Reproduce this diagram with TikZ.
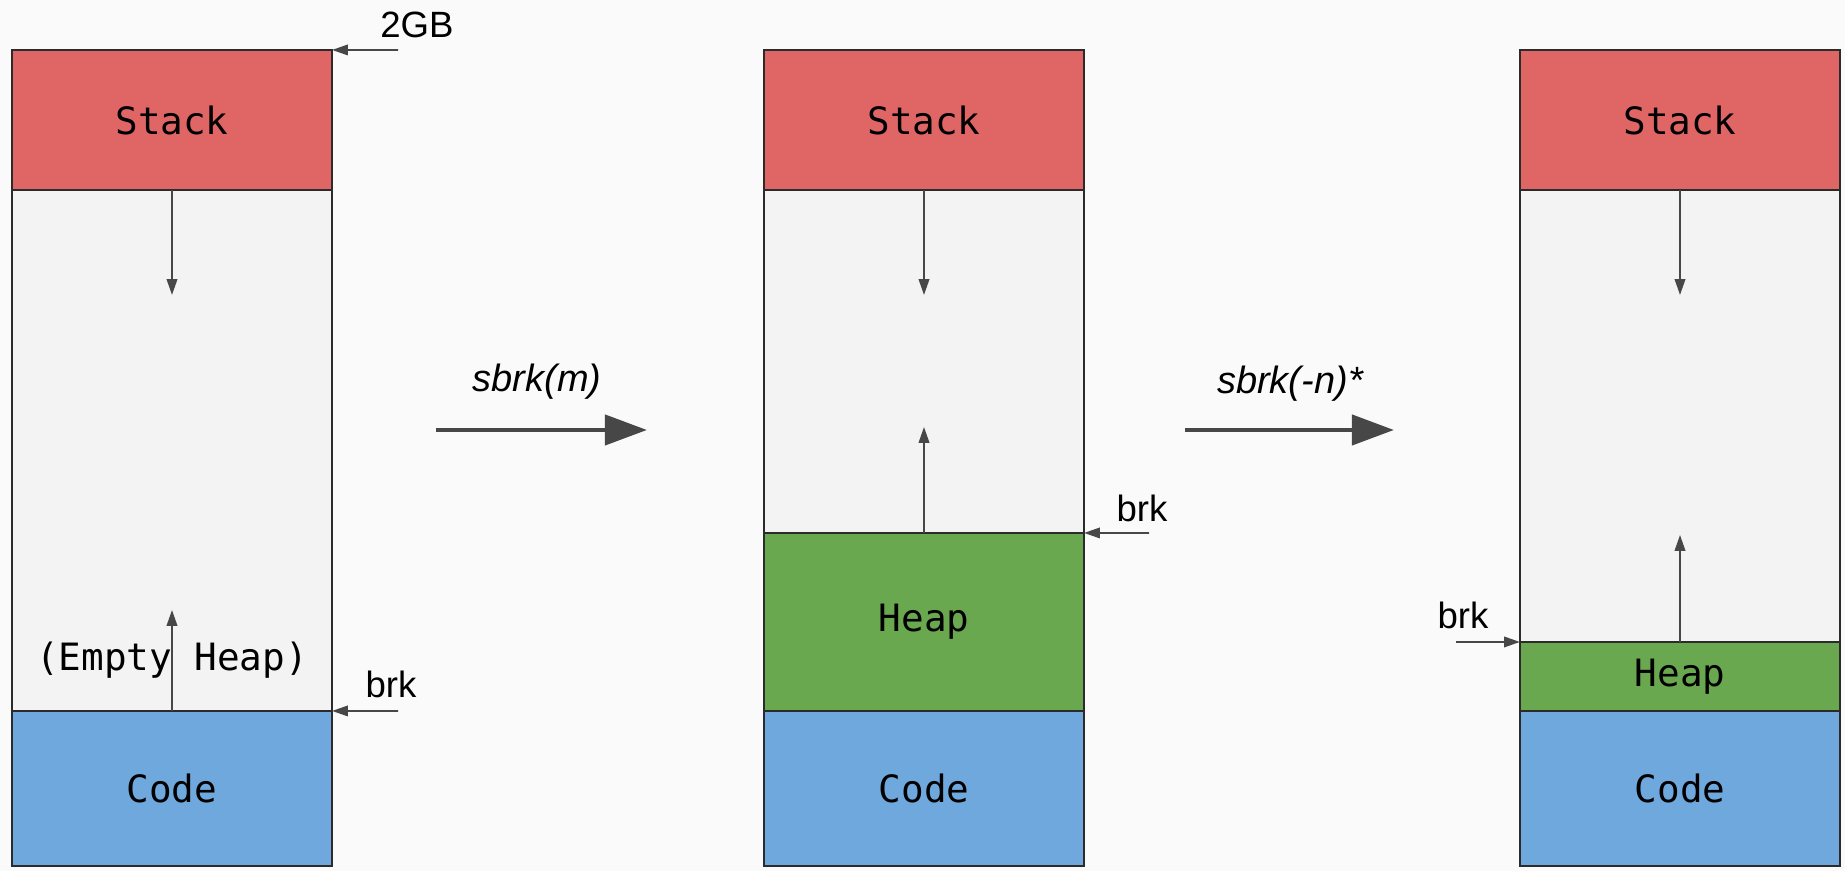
\documentclass[tikz,border=0pt]{standalone}
\usepackage{fontspec}
\setmainfont{Liberation Sans}
\setmonofont{DejaVu Sans Mono}
\usetikzlibrary{arrows.meta,positioning}

\definecolor{stackred}{HTML}{E06666}
\definecolor{codeblue}{HTML}{6FA8DC}
\definecolor{heapgreen}{HTML}{6AA84F}
\definecolor{freegrey}{HTML}{F3F3F3}
\definecolor{bggrey}{HTML}{FAFAFA}
\definecolor{edgegrey}{HTML}{2B2B2B}
\definecolor{arrowgrey}{HTML}{474747}

\begin{document}
\begin{tikzpicture}[x=0.01cm, y=-0.01cm,
    seg/.style = {draw=edgegrey, line width=0.6pt, minimum width=3.2cm, inner sep=0, outer sep=0,
                  font=\ttfamily\fontsize{10.7}{12}\selectfont},
    lbl/.style = {inner sep=0, font=\fontsize{10.4}{12}\selectfont},
    call/.style = {inner sep=0, font=\itshape\fontsize{10.8}{13}\selectfont},
    thin/.style = {draw=arrowgrey, line width=0.5pt, -{Triangle[length=4.5pt, width=3pt]}},
    jump/.style = {draw=arrowgrey, line width=1.4pt, -{Triangle[length=12pt, width=8.5pt]}}]

    \fill[bggrey] (0,0) rectangle (1845,871);

    % before: empty heap
    \node[seg, fill=stackred, minimum height=1.4cm] (stackA) at (172,120) {Stack};
    \node[seg, fill=freegrey, minimum height=5.21cm] (freeA) at (172,450.5) {};
    \node[seg, fill=codeblue, minimum height=1.55cm] (codeA) at (172,788.5) {Code};
    \node[seg, draw=none] (emptyA) at (172,660) {(Empty Heap)};

    \coordinate (downA) at (172,295);
    \coordinate (upA) at (172,610);
    \draw[thin] (stackA.south) -- (downA);
    \draw[thin] (codeA.north) -- (upA);

    \coordinate (topA) at (398,50);
    \coordinate (brkA) at (398,711);
    \draw[thin] (topA) -- (stackA.north east);
    \draw[thin] (brkA) -- (codeA.north east);
    \node[lbl] (gbA) at (417,25) {2GB};
    \node[lbl] (brklA) at (391,684) {brk};

    % sbrk(m)
    \coordinate (goA) at (436,430);
    \coordinate (endA) at (647,430);
    \draw[jump] (goA) -- (endA);
    \node[call] (sbrkA) at (537,382) {sbrk(m)};

    % after growing
    \node[seg, fill=stackred, minimum height=1.4cm] (stackB) at (924,120) {Stack};
    \node[seg, fill=freegrey, minimum height=3.43cm] (freeB) at (924,361.5) {};
    \node[seg, fill=heapgreen, minimum height=1.78cm] (heapB) at (924,622) {Heap};
    \node[seg, fill=codeblue, minimum height=1.55cm] (codeB) at (924,788.5) {Code};

    \coordinate (downB) at (924,295);
    \coordinate (upB) at (924,427);
    \draw[thin] (stackB.south) -- (downB);
    \draw[thin] (heapB.north) -- (upB);

    \coordinate (brkB) at (1149,533);
    \draw[thin] (brkB) -- (heapB.north east);
    \node[lbl] (brklB) at (1142,508) {brk};

    % sbrk(-n)
    \coordinate (goB) at (1185,430);
    \coordinate (endB) at (1394,430);
    \draw[jump] (goB) -- (endB);
    \node[call] (sbrkB) at (1290,384) {sbrk(-n)*};

    % after shrinking
    \node[seg, fill=stackred, minimum height=1.4cm] (stackC) at (1680,120) {Stack};
    \node[seg, fill=freegrey, minimum height=4.52cm] (freeC) at (1680,416) {};
    \node[seg, fill=heapgreen, minimum height=0.69cm] (heapC) at (1680,676.5) {Heap};
    \node[seg, fill=codeblue, minimum height=1.55cm] (codeC) at (1680,788.5) {Code};

    \coordinate (downC) at (1680,295);
    \coordinate (upC) at (1680,535);
    \draw[thin] (stackC.south) -- (downC);
    \draw[thin] (heapC.north) -- (upC);

    \coordinate (brkC) at (1456,642);
    \draw[thin] (brkC) -- (heapC.north west);
    \node[lbl] (brklC) at (1463,615) {brk};
\end{tikzpicture}
\end{document}
